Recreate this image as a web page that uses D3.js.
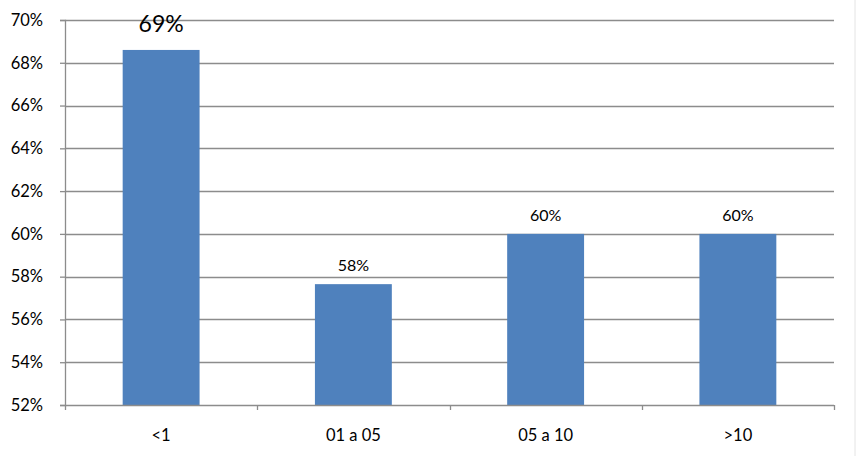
<!DOCTYPE html>
<html>
<head>
<meta charset="utf-8">
<script src="https://cdn.jsdelivr.net/npm/d3@7"></script>
<style>
  body { margin: 0; background: #fff; }
  svg text { font-family: Lato, "Open Sans", sans-serif; fill: #000; }
</style>
</head>
<body>
<div class="chart"></div>
<script>
'use strict';

const categories = ['<1', '01 a 05', '05 a 10', '>10'];
const values = [68.6, 57.65, 60.0, 60.0];
const labels = ['69%', '58%', '60%', '60%'];
const yTicks = [52, 54, 56, 58, 60, 62, 64, 66, 68, 70];

const width = 857;
const height = 456;
const margin = {top: 20, right: 23, bottom: 51, left: 65};

const svg = d3.select('.chart')
    .append('svg')
    .attr('width', width)
    .attr('height', height);

// faint outer border on the right, as in the original
svg.append('line')
    .attr('x1', width - 2).attr('x2', width - 2)
    .attr('y1', 0).attr('y2', height)
    .attr('stroke', '#e4e4e4');

const x = d3.scaleBand()
    .domain(categories)
    .range([margin.left, width - margin.right])
    .paddingInner(0.6)
    .paddingOuter(0.3);

const y = d3.scaleLinear()
    .domain([52, 70])
    .range([height - margin.bottom, margin.top]);

// gridlines
svg.append('g')
    .selectAll('line')
    .data(yTicks.slice(1))
    .enter().append('line')
    .attr('x1', margin.left)
    .attr('x2', width - margin.right)
    .attr('y1', d => Math.round(y(d)) + 0.5)
    .attr('y2', d => Math.round(y(d)) + 0.5)
    .attr('stroke', '#8c8c8c')
    .attr('stroke-width', 1.3);

// y axis
const yAxis = svg.append('g')
    .attr('transform', `translate(${margin.left},0)`)
    .call(d3.axisLeft(y).tickValues(yTicks).tickSize(5).tickFormat(d => d + '%'));
yAxis.select('.domain').attr('stroke', '#8c8c8c').attr('stroke-width', 1.3);
yAxis.selectAll('.tick line').attr('stroke', '#8c8c8c').attr('stroke-width', 1.3);
yAxis.selectAll('.tick text')
    .attr('x', -22)
    .style('font-size', '16.5px');

// bars
svg.append('g')
    .selectAll('rect')
    .data(values)
    .enter().append('rect')
    .attr('x', (d, i) => x(categories[i]))
    .attr('width', x.bandwidth())
    .attr('y', d => y(d))
    .attr('height', d => y(52) - y(d))
    .attr('fill', '#4f81bd');

// x axis with ticks at band boundaries
const bottom = height - margin.bottom;
const xAxis = svg.append('g');
xAxis.append('line')
    .attr('x1', margin.left).attr('x2', width - margin.right)
    .attr('y1', Math.round(bottom) + 0.5).attr('y2', Math.round(bottom) + 0.5)
    .attr('stroke', '#8c8c8c').attr('stroke-width', 1.3);
const bounds = categories.map(c => x(c) - x.step() * x.paddingInner() / 2)
    .concat([width - margin.right]);
bounds[0] = margin.left;
xAxis.selectAll('line.tk')
    .data(bounds)
    .enter().append('line')
    .attr('class', 'tk')
    .attr('x1', d => Math.round(d) + 0.5).attr('x2', d => Math.round(d) + 0.5)
    .attr('y1', bottom).attr('y2', bottom + 5)
    .attr('stroke', '#8c8c8c').attr('stroke-width', 1.3);
xAxis.selectAll('text')
    .data(categories)
    .enter().append('text')
    .attr('x', d => x(d) + x.bandwidth() / 2)
    .attr('y', bottom + 36)
    .attr('text-anchor', 'middle')
    .style('font-size', '16.5px')
    .text(d => d);

// data labels
svg.append('g')
    .selectAll('text')
    .data(values)
    .enter().append('text')
    .attr('x', (d, i) => x(categories[i]) + x.bandwidth() / 2)
    .attr('y', (d, i) => y(d) - (i === 0 ? 18 : 13))
    .attr('text-anchor', 'middle')
    .style('font-size', (d, i) => i === 0 ? '23px' : '16px')
    .text((d, i) => labels[i]);
</script>
</body>
</html>
